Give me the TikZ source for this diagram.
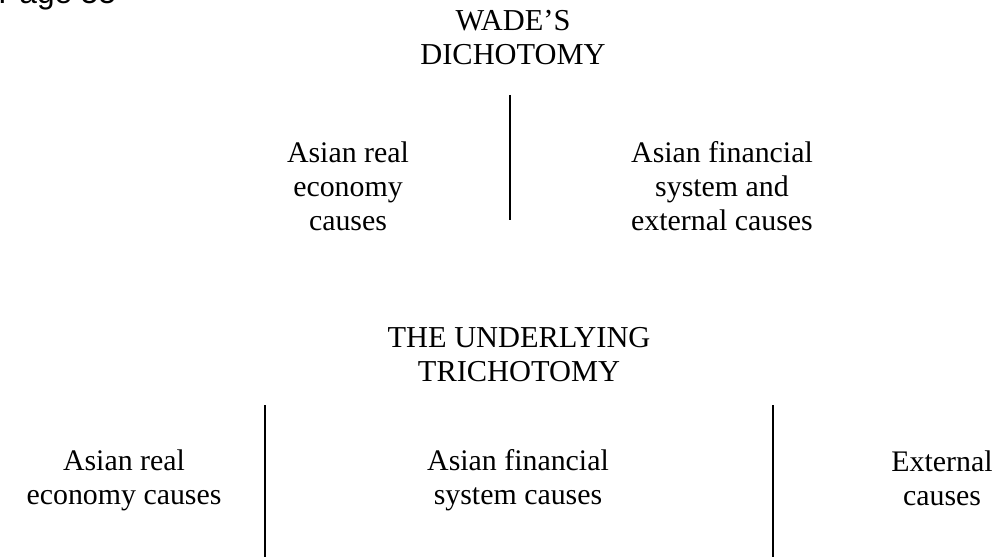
\documentclass[tikz,border=0pt]{standalone}
\usepackage{fontspec}
\setmainfont{Liberation Serif}
\newfontfamily\pagefont{Liberation Sans}

\begin{document}
\begin{tikzpicture}[x=0.02cm, y=-0.02cm,
	every node/.style={font=\fontsize{17}{19.4}\selectfont, align=center, inner sep=0pt},
	heading/.style={font=\fontsize{17.3}{19.4}\selectfont},
	divider/.style={line width=0.9pt}]
\useasboundingbox (0,0) rectangle (999,557);

% running head, cut by the page edge
\begin{scope}
\clip (0,0) rectangle (999,557);
\node[anchor=base west, font=\pagefont\fontsize{18}{20}\selectfont] (page) at (-2,4) {Page 55};
\end{scope}

% the dichotomy
\node[heading] (wade) at (513,38) {WADE'S\\DICHOTOMY};
\coordinate (wtop) at (510,95);
\coordinate (wbot) at (510,220);
\draw[divider] (wtop) -- (wbot);
\node (real) at (348,186) {Asian real\\economy\\causes};
\node (fin) at (722,186) {Asian financial\\system and\\external causes};

% the trichotomy
\node[heading] (under) at (519,355) {THE UNDERLYING\\TRICHOTOMY};
\coordinate (ltop) at (265,405);
\coordinate (lbot) at (265,557);
\coordinate (rtop) at (773,405);
\coordinate (rbot) at (773,557);
\draw[divider] (ltop) -- (lbot);
\draw[divider] (rtop) -- (rbot);
\node (real3) at (124,480) {Asian real\\economy causes};
\node (fin3) at (518,480) {Asian financial\\system causes};
\node (ext3) at (942,478) {External\\causes};
\end{tikzpicture}
\end{document}
